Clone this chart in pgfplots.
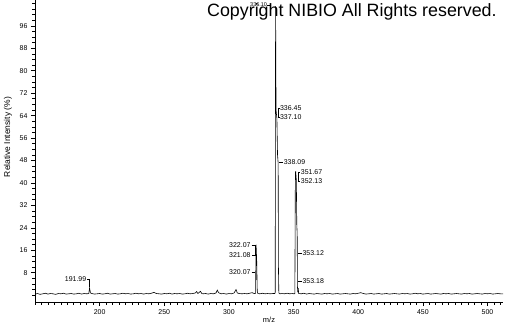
\documentclass[border=0pt]{standalone}
\usepackage{fontspec}
\setmainfont{Liberation Sans}
\usepackage{pgfplots}
\pgfplotsset{compat=1.18}
\begin{document}
\begin{tikzpicture}
\newcommand{\lb}{\fontsize{7}{8}\selectfont}
\begin{axis}[
  at={(0,0)}, anchor=south west,
  scale only axis, width=468bp, height=302bp,
  xmin=150, xmax=512, ymin=-2.42, ymax=105.2,
  axis x line*=bottom, axis y line*=left,
  axis line style={line width=0.8pt},
  xtick={200,250,...,500}, minor xtick={150,155,...,510},
  ytick={8,16,...,96}, minor ytick={0,2,...,104},
  tick align=outside,
  major tick length=4bp, minor tick length=2.5bp,
  every tick/.style={black, line width=0.6pt},
  /pgf/number format/assume math mode=true,
  ticklabel style={font=\lb},
  xlabel={m/z}, ylabel={Relative Intensity (\%)},
  xlabel style={font=\fontsize{7.5}{8}\selectfont, at={(axis description cs:0.5,-0.05)}, anchor=north, inner sep=0pt},
  ylabel style={font=\fontsize{8.5}{9}\selectfont, at={(axis description cs:-0.058,0.546)}, anchor=center, rotate=0},
  clip=false,
]
\addplot[black, line width=0.6pt] coordinates {
(150,0.4)(152,0.6)(154,0.3)(156,0.5)(158,0.7)(160,0.4)(162,0.6)(164,0.5)(166,0.3)(168,0.6)
(170,0.5)(172,0.7)(174,0.4)(176,0.5)(178,0.6)(180,0.4)(182,0.5)(184,0.7)(186,0.4)(188,0.6)
(190,0.5)(191.6,0.6)(192.2,2.6)(192.9,0.8)(194,0.6)(196,0.4)(198,0.5)(200,0.6)(202,0.4)(204,0.5)
(206,0.7)(208,0.4)(210,0.5)(212,0.6)(214,0.4)(216,0.5)(218,0.7)(220,0.5)(222,0.6)(224,0.4)
(226,0.5)(228,0.7)(230,0.5)(232,0.6)(234,0.4)(236,0.6)(238,0.5)(240,0.7)(242,1.0)(244,0.6)
(246,0.5)(248,0.4)(250,0.6)(252,0.5)(254,0.7)(256,0.4)(258,0.6)(260,0.5)(262,0.6)(264,0.4)
(266,0.5)(268,0.7)(270,0.5)(272,0.6)(274,0.8)(275,1.3)(276,0.6)(278,1.4)(279,0.6)(280,0.5)
(282,0.6)(284,0.4)(286,0.6)(288,0.5)(290,0.8)(291,1.8)(292,0.9)(294,0.5)(296,0.6)(298,0.4)
(300,0.6)(302,0.5)(304,0.8)(305.5,2.0)(306.5,0.8)(308,0.6)(310,0.5)(312,0.6)(314,0.5)(316,0.7)
(318,0.9)(319.5,0.6)(320.6,0.7)(321.0,18)(321.5,12)(321.9,1.5)(322.4,0.6)(324,0.5)(326,0.7)(328,0.5)
(330,0.6)(332,0.5)(334,0.6)(335.5,0.6)(335.8,1)(336.1,103)(336.45,66)(337.1,63)(337.6,50)(338.09,47)
(338.3,10)(338.6,0.8)(339.5,0.5)(341,0.6)(343,0.5)(345,0.7)(347,0.5)(349,0.6)(350.5,0.5)(351.0,0.6)
(351.4,44)(351.67,44)(352.13,41)(352.5,25)(352.8,22)(353.0,3)(353.3,1)(353.6,2.5)(354,0.6)(356,0.5)
(358,0.7)(360,0.4)(362,0.6)(364,0.5)(366,0.4)(368,0.6)(370,0.5)(372,0.4)(374,0.6)(376,0.5)
(378,0.6)(380,0.4)(382,0.5)(384,0.6)(386,0.4)(388,0.5)(390,0.6)(392,0.5)(394,0.4)(396,0.6)
(398,0.5)(400,0.7)(402,0.9)(404,0.6)(406,0.4)(408,0.5)(410,0.6)(412,0.4)(414,0.5)(416,0.6)
(418,0.4)(420,0.5)(422,0.6)(424,0.4)(426,0.5)(428,0.6)(430,0.5)(432,0.4)(434,0.6)(436,0.5)
(438,0.6)(440,0.4)(442,0.5)(444,0.7)(446,0.5)(448,0.6)(450,0.4)(452,0.5)(454,0.6)(456,0.4)
(458,0.5)(460,0.6)(462,0.5)(464,0.4)(466,0.6)(468,0.5)(470,0.6)(472,0.4)(474,0.5)(476,0.6)
(478,0.5)(480,0.4)(482,0.6)(484,0.5)(486,0.6)(488,0.4)(490,0.5)(492,0.6)(494,0.5)(496,0.4)
(498,0.6)(500,0.5)(502,0.6)(504,0.4)(506,0.5)(508,0.6)(510,0.5)(512,0.5)
};
% peak labels with leader lines
\draw[black, line width=0.5pt] (190.5,5.8)--(192.2,5.8)--(192.2,2.8);
\node[anchor=east, font=\lb, inner sep=0pt] at (axis cs:189.8,5.8) {191.99};
\draw[black, line width=0.5pt] (329.8,103.4)--(331.6,103.4)--(331.6,101.6);
\node[anchor=east, font=\fontsize{5.5}{6}\selectfont, inner sep=0pt] at (axis cs:329.6,103.6) {336.10};
\draw[black, line width=0.5pt] (339.2,66.7)--(338.5,66.7)--(338.5,63.5)--(339.2,63.5);
\node[anchor=west, font=\lb, inner sep=0pt] at (axis cs:339.4,66.7) {336.45};
\node[anchor=west, font=\lb, inner sep=0pt] at (axis cs:339.4,63.5) {337.10};
\draw[black, line width=0.5pt] (338.5,47.5)--(341.8,47.5);
\node[anchor=west, font=\lb, inner sep=0pt] at (axis cs:342.3,47.5) {338.09};
\draw[black, line width=0.5pt] (355.0,43.9)--(353.6,43.9)--(353.6,40.7)--(355.0,40.7);
\node[anchor=west, font=\lb, inner sep=0pt] at (axis cs:355.5,43.9) {351.67};
\node[anchor=west, font=\lb, inner sep=0pt] at (axis cs:355.5,40.7) {352.13};
\draw[black, line width=0.5pt] (353.6,15)--(356.2,15);
\node[anchor=west, font=\lb, inner sep=0pt] at (axis cs:356.8,15) {353.12};
\draw[black, line width=0.5pt] (353.6,5.06)--(356.2,5.06);
\node[anchor=west, font=\lb, inner sep=0pt] at (axis cs:356.8,5.06) {353.18};
\draw[black, line width=0.5pt] (317.6,17.9)--(320.2,17.9)--(320.2,14.3)--(317.6,14.3);
\node[anchor=east, font=\lb, inner sep=0pt] at (axis cs:316.9,17.9) {322.07};
\node[anchor=east, font=\lb, inner sep=0pt] at (axis cs:316.9,14.3) {321.08};
\draw[black, line width=0.5pt] (317.6,8.3)--(320.4,8.3);
\node[anchor=east, font=\lb, inner sep=0pt] at (axis cs:316.9,8.3) {320.07};
\end{axis}
\node[anchor=base west, font=\fontsize{17.9}{20}\selectfont, inner sep=0pt] at (172bp,285bp) {Copyright NIBIO All Rights reserved.};
\pgfresetboundingbox
\path[use as bounding box] (-35bp,-23bp) rectangle (470bp,302bp);
\end{tikzpicture}
\end{document}
